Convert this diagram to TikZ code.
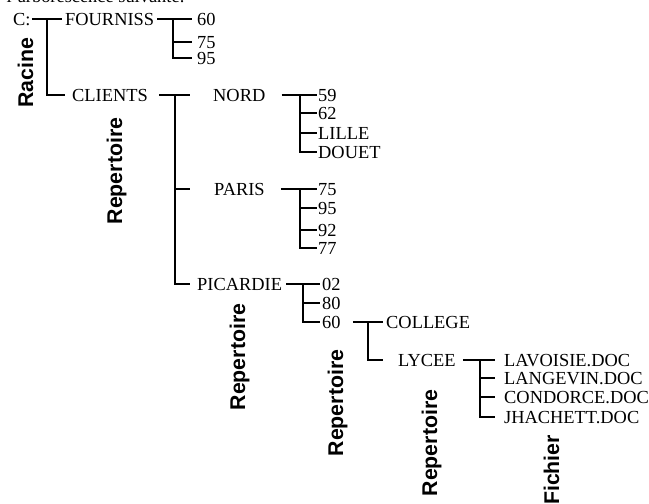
\documentclass[tikz,border=0pt]{standalone}
\usepackage{fontspec}
\setmainfont{Liberation Serif}
\newfontfamily\lblsans{Liberation Sans}
\begin{document}
\begin{tikzpicture}[x=1pt,y=-1pt,
 lbl/.style={font=\fontsize{18.4}{20}\selectfont, inner sep=0pt, anchor=west, text height=12.2pt, text depth=0pt},
 cat/.style={font=\lblsans\bfseries\fontsize{21.3}{24}\selectfont, inner sep=0pt, rotate=90, anchor=base},
 ln/.style={line width=1.7pt}]
\useasboundingbox (0,0) rectangle (649,504);
\begin{scope}
\clip (0,0) rectangle (649,504);
\node[font=\fontsize{18.4}{20}\selectfont, inner sep=0pt, anchor=base east] (intro) at (185,2.5) {l'arborescence suivante:};
\end{scope}
% nodes
\node[lbl] (C) at (13,19) {C:};
\node[lbl] (FOURNISS) at (65,19) {FOURNISS};
\node[lbl] (f60) at (197,19) {60};
\node[lbl] (f75) at (197,42) {75};
\node[lbl] (f95) at (197,58) {95};
\node[lbl] (CLIENTS) at (72,95) {CLIENTS};
\node[lbl] (NORD) at (213,95) {NORD};
\node[lbl] (n59) at (318,95) {59};
\node[lbl] (n62) at (318,113) {62};
\node[lbl] (LILLE) at (318,133) {LILLE};
\node[lbl] (DOUET) at (318,152) {DOUET};
\node[lbl] (PARIS) at (214,189) {PARIS};
\node[lbl] (p75) at (318,189) {75};
\node[lbl] (p95) at (318,208) {95};
\node[lbl] (p92) at (318,230) {92};
\node[lbl] (p77) at (318,248) {77};
\node[lbl] (PICARDIE) at (197,284) {PICARDIE};
\node[lbl] (c02) at (322,284) {02};
\node[lbl] (c80) at (322,303) {80};
\node[lbl] (c60) at (322,322) {60};
\node[lbl] (COLLEGE) at (386,322) {COLLEGE};
\node[lbl] (LYCEE) at (398,360) {LYCEE};
\node[lbl] (LAV) at (504,360) {LAVOISIE.DOC};
\node[lbl] (LAN) at (504,378) {LANGEVIN.DOC};
\node[lbl] (CON) at (504,397) {CONDORCE.DOC};
\node[lbl] (JHA) at (504,417) {JHACHETT.DOC};
% category labels
\node[cat] (racine) at (33,73) {Racine};
\node[cat] (rep1) at (122,171) {Repertoire};
\node[cat] (rep2) at (245,357) {Repertoire};
\node[cat] (rep3) at (343,403) {Repertoire};
\node[cat] (rep4) at (437,443) {Repertoire};
\node[cat] (fichier) at (559,470) {Fichier};
% trunks and tick ends
\coordinate (t1) at (47,19);
\coordinate (t2) at (173,19);  \coordinate (e2) at (192,0);
\coordinate (t3) at (175,95);  \coordinate (e3) at (190,0);
\coordinate (t4) at (300,95);  \coordinate (e4) at (317,0);
\coordinate (t5) at (300,189); \coordinate (e5) at (317,0);
\coordinate (t6) at (303,284); \coordinate (e6) at (320,0);
\coordinate (t7) at (368,322); \coordinate (e7) at (383,0);
\coordinate (t8) at (480,360); \coordinate (e8) at (495,0);
% C:
\draw[ln] ([xshift=1pt]C.east) -- ([xshift=-3pt]FOURNISS.west);
\draw[ln] (t1) |- ([xshift=-7pt]CLIENTS.west);
% FOURNISS
\draw[ln] ([xshift=3pt]FOURNISS.east) -- (e2 |- f60.west);
\draw[ln] (t2) |- (e2 |- f95.west);
\draw[ln] (t2 |- f75.west) -- (e2 |- f75.west);
% CLIENTS
\draw[ln] ([xshift=11pt]CLIENTS.east) -- (e3 |- NORD.west);
\draw[ln] (t3) |- (e3 |- PICARDIE.west);
\draw[ln] (t3 |- PARIS.west) -- (e3 |- PARIS.west);
% NORD
\draw[ln] ([xshift=16pt]NORD.east) -- (e4 |- n59.west);
\draw[ln] (t4) |- (e4 |- DOUET.west);
\draw[ln] (t4 |- n62.west) -- (e4 |- n62.west);
\draw[ln] (t4 |- LILLE.west) -- (e4 |- LILLE.west);
% PARIS
\draw[ln] ([xshift=16pt]PARIS.east) -- (e5 |- p75.west);
\draw[ln] (t5) |- (e5 |- p77.west);
\draw[ln] (t5 |- p95.west) -- (e5 |- p95.west);
\draw[ln] (t5 |- p92.west) -- (e5 |- p92.west);
% PICARDIE
\draw[ln] ([xshift=4pt]PICARDIE.east) -- (e6 |- c02.west);
\draw[ln] (t6) |- (e6 |- c60.west);
\draw[ln] (t6 |- c80.west) -- (e6 |- c80.west);
% 60
\draw[ln] ([xshift=12pt]c60.east) -- (e7 |- COLLEGE.west);
\draw[ln] (t7) |- (e7 |- LYCEE.west);
% LYCEE
\draw[ln] ([xshift=7pt]LYCEE.east) -- (e8 |- LAV.west);
\draw[ln] (t8) |- (e8 |- JHA.west);
\draw[ln] (t8 |- LAN.west) -- (e8 |- LAN.west);
\draw[ln] (t8 |- CON.west) -- (e8 |- CON.west);
\end{tikzpicture}
\end{document}
